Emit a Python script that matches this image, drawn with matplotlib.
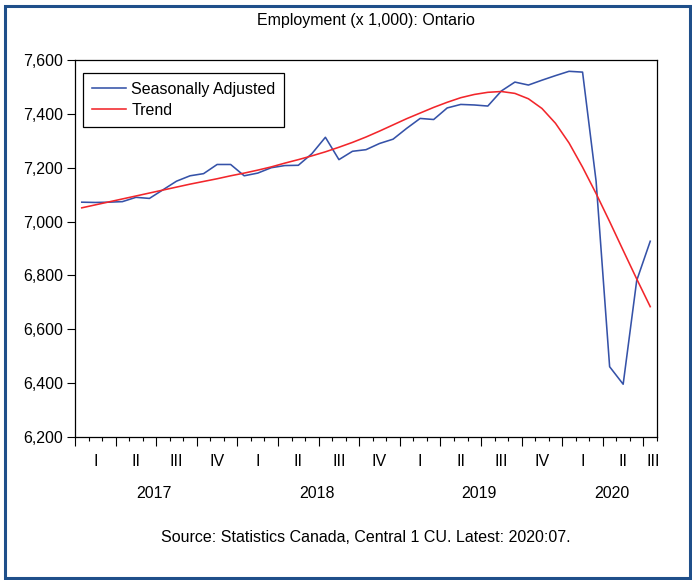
import matplotlib
matplotlib.use("Agg")
import matplotlib.pyplot as plt
import matplotlib.transforms as mtransforms
from matplotlib.patches import Rectangle
from matplotlib.ticker import FuncFormatter, MultipleLocator, FixedLocator

plt.rcParams['font.family'] = ['Liberation Sans', 'DejaVu Sans']
FS = 11.5

# monthly data, Jan 2017 .. Jul 2020 (thousands)
seasonally_adjusted = [
    7072, 7071, 7072, 7074, 7090, 7086, 7118, 7150, 7170, 7178, 7212, 7212,
    7170, 7180, 7200, 7208, 7209, 7252, 7313, 7230, 7261, 7267, 7290, 7306,
    7346, 7383, 7379, 7422, 7435, 7433, 7429, 7485, 7518, 7507, 7525, 7542,
    7558, 7555, 7150, 6461, 6396, 6781, 6927,
]
trend = [
    7051, 7062, 7073, 7084, 7095, 7106, 7117, 7128, 7139, 7149, 7159, 7170,
    7180, 7191, 7203, 7217, 7230, 7244, 7259, 7276, 7294, 7314, 7336, 7359,
    7382, 7403, 7424, 7443, 7460, 7472, 7480, 7483, 7476, 7456, 7420, 7365,
    7292, 7202, 7104, 7000, 6893, 6787, 6684,
]
quarter_labels = ['I', 'II', 'III', 'IV'] * 3 + ['I', 'II', 'III']
years = ['2017', '2018', '2019', '2020']

n = len(seasonally_adjusted)
x = [i + 0.5 for i in range(n)]

fig = plt.figure(figsize=(6.92, 5.8), dpi=100)
ax = fig.add_axes([75 / 692, 1 - 437 / 580, 582 / 692, 377 / 580])

ax.plot(x, seasonally_adjusted, color='#3552a8', lw=1.15, label='Seasonally Adjusted')
ax.plot(x, trend, color='#f2262b', lw=1.15, label='Trend')

ax.set_xlim(0, n)
ax.set_ylim(6200, 7600)
ax.yaxis.set_major_locator(MultipleLocator(200))
ax.yaxis.set_major_formatter(FuncFormatter(lambda v, p: f'{int(v):,}'))
ax.tick_params(axis='y', direction='out', length=5.5, width=0.8, pad=3,
               labelsize=FS, right=False)

# month ticks, longer ticks at quarter starts
ax.xaxis.set_major_locator(FixedLocator(list(range(0, n + 1, 3))))
ax.xaxis.set_minor_locator(FixedLocator(list(range(0, n + 1))))
ax.tick_params(axis='x', which='major', direction='out', length=6.5, width=0.8,
               labelbottom=False)
ax.tick_params(axis='x', which='minor', direction='out', length=3, width=0.8)
for s in ax.spines.values():
    s.set_linewidth(0.9)

trans = mtransforms.blended_transform_factory(ax.transData, fig.transFigure)
for q, lab in enumerate(quarter_labels):
    xq = 3 * q + 1.5 if q < len(quarter_labels) - 1 else n - 0.3
    ax.text(xq, 1 - 461 / 580, lab, transform=trans, ha='center', va='center',
            fontsize=FS)
year_pos = [5.85, 17.85, 29.85, 39.7]
for xp, yr in zip(year_pos, years):
    ax.text(xp, 1 - 493 / 580, yr, transform=trans, ha='center', va='center',
            fontsize=FS)

leg = ax.legend(loc='upper left', bbox_to_anchor=(0.0143, 0.966), borderaxespad=0,
                fontsize=FS, fancybox=False, framealpha=1, edgecolor='black',
                handlelength=2.1, handletextpad=0.35, labelspacing=0.4,
                borderpad=0.55)
leg.get_frame().set_linewidth(0.9)

fig.text(366 / 692, 1 - 20 / 580, 'Employment (x 1,000): Ontario',
         ha='center', va='center', fontsize=FS)
fig.text(366 / 692, 1 - 537 / 580, 'Source: Statistics Canada, Central 1 CU. Latest: 2020:07.',
         ha='center', va='center', fontsize=FS)

fig.patches.append(Rectangle((4.5 / 692, 2.5 / 580), 685 / 692, 571.5 / 580,
                             transform=fig.transFigure, fill=False,
                             edgecolor='#1f4f8a', lw=2.2))

fig.savefig('out.png', dpi=100)
